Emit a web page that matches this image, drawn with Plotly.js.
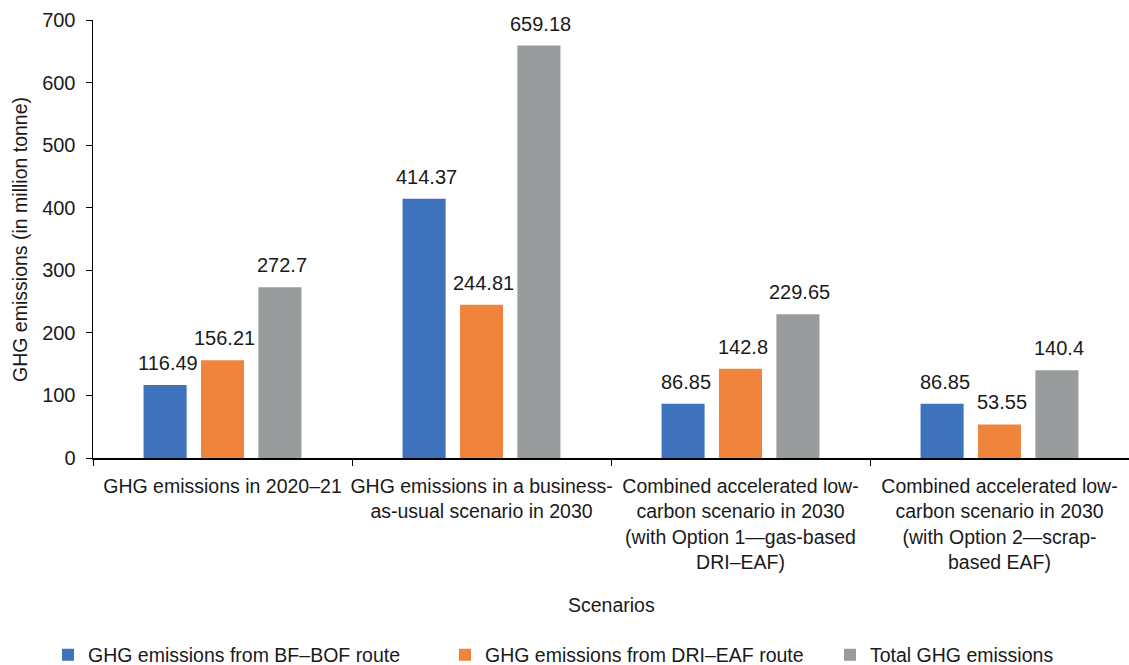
<!DOCTYPE html>
<html>
<head>
<meta charset="utf-8">
<script src="https://cdn.plot.ly/plotly-3.0.1.min.js"></script>
<style>html,body{margin:0;padding:0;background:#fff;}#chart{width:1129px;height:665px;}</style>
</head>
<body>
<div id="chart"></div>
<script>
const categories = [
  "GHG emissions in 2020–21",
  "GHG emissions in a business-<br>as-usual scenario in 2030",
  "Combined accelerated low-<br>carbon scenario in 2030<br>(with Option 1—gas-based<br>DRI–EAF)",
  "Combined accelerated low-<br>carbon scenario in 2030<br>(with Option 2—scrap-<br>based EAF)"
];
const seriesNames = ["GHG emissions from BF–BOF route", "GHG emissions from DRI–EAF route", "Total GHG emissions"];
const bfBof = [116.49, 414.37, 86.85, 86.85];
const driEaf = [156.21, 244.81, 142.8, 53.55];
const total = [272.7, 659.18, 229.65, 140.4];
const colors = ["#3E72BC", "#F0843C", "#999C9C"];

const FONT = "'Liberation Sans', Arial, sans-serif";
const TXT = "#1a1a1a";
const values = [bfBof, driEaf, total];
const legendIds = ["legend", "legend2", "legend3"];
const traces = values.map((v, i) => ({
  type: "bar",
  name: seriesNames[i],
  x: categories,
  y: v,
  marker: {color: colors[i]},
  legend: legendIds[i]
}));

// value labels above bars, positioned via axis scales (category + value) and group offset
const slot = 57;
const labelAnns = [];
values.forEach((v, i) => {
  v.forEach((val, j) => {
    labelAnns.push({
      x: categories[j], y: val, xref: "x", yref: "y",
      text: String(val), showarrow: false,
      xshift: (i - 1) * slot + 2, yshift: 9,
      xanchor: "center", yanchor: "bottom",
      font: {family: FONT, size: 20, color: TXT}
    });
  });
});

const legendText = [88, 485, 870];
function mkLegend(px) {
  return {orientation: "h", xref: "container", x: (px - 40) / 1129, xanchor: "left",
          yref: "container", y: 10 / 665, yanchor: "middle",
          font: {family: FONT, size: 19.5, color: TXT}, itemwidth: 30, bgcolor: "rgba(0,0,0,0)"};
}

const layout = {
  width: 1129, height: 665,
  margin: {l: 93, r: 0, t: 20, b: 207},
  paper_bgcolor: "#fff", plot_bgcolor: "#fff",
  font: {family: FONT, size: 20, color: TXT},
  barmode: "group",
  bargap: 0.335,
  bargroupgap: 0.25,
  showlegend: true,
  legend: mkLegend(legendText[0]),
  legend2: mkLegend(legendText[1]),
  legend3: mkLegend(legendText[2]),
  xaxis: {
    type: "category",
    showline: true, linecolor: "#000", linewidth: 1.5,
    ticks: "outside", tickson: "boundaries", ticklen: 6, tickcolor: "#000",
    showgrid: false, zeroline: false, automargin: false, tickangle: 0,
    ticklabelstandoff: 10,
    tickfont: {family: FONT, size: 19.5, color: TXT}
  },
  yaxis: {
    range: [0, 700], dtick: 100,
    showline: true, linecolor: "#000", linewidth: 1.5,
    ticks: "outside", ticklen: 6, tickcolor: "#000",
    showgrid: false, zeroline: false, automargin: false,
    ticklabelstandoff: 6,
    tickfont: {family: FONT, size: 20, color: TXT}
  },
  annotations: labelAnns.concat([
    {text: "Scenarios", xref: "paper", yref: "paper", x: 0.5, y: -0.3356, showarrow: false,
     font: {family: FONT, size: 19.5, color: TXT}, xanchor: "center", yanchor: "middle"},
    {text: "GHG emissions (in million tonne)", xref: "paper", yref: "paper", x: -0.0705, y: 0.5, textangle: -90,
     showarrow: false, font: {family: FONT, size: 19.5, color: TXT}, xanchor: "center", yanchor: "middle"}
  ])
};

Plotly.newPlot("chart", traces, layout, {displayModeBar: false, staticPlot: true});
</script>
</body>
</html>
